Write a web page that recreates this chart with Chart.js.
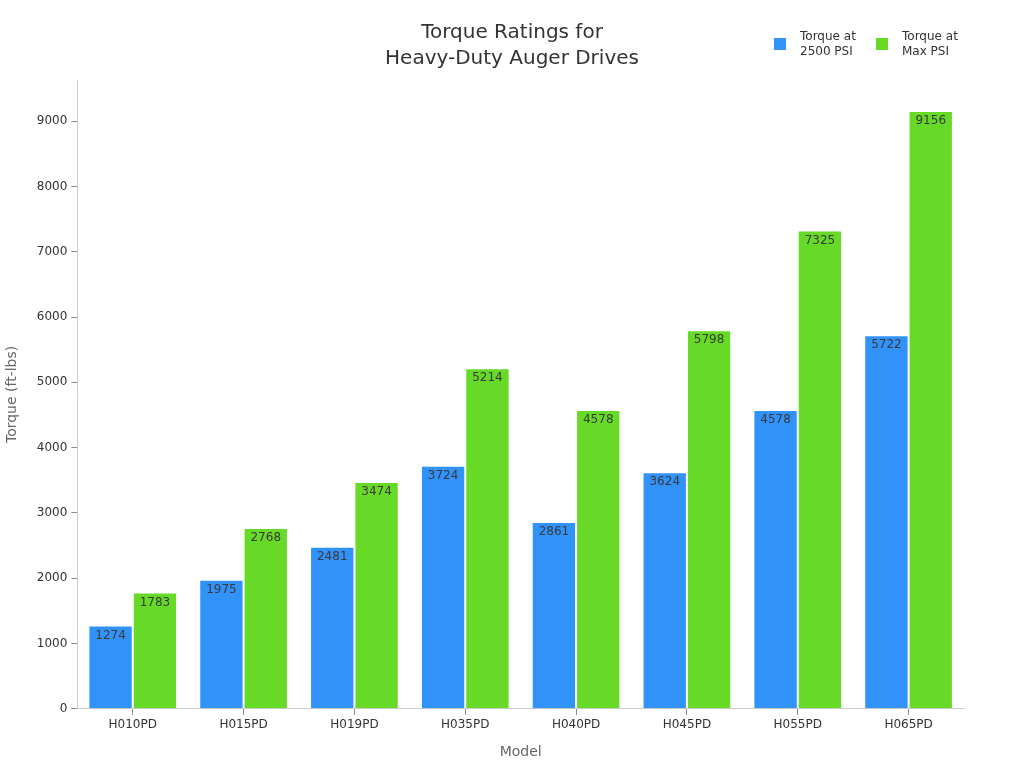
<!DOCTYPE html>
<html>
<head>
<meta charset="utf-8">
<script src="https://cdn.jsdelivr.net/npm/chart.js@4.4.1/dist/chart.umd.min.js"></script>
<style>
html,body{margin:0;padding:0;background:#fff;}
#wrap{width:1024px;height:768px;}
</style>
</head>
<body>
<div id="wrap"><canvas id="c" width="1024" height="768"></canvas></div>
<script>
const categories = ["H010PD","H015PD","H019PD","H035PD","H040PD","H045PD","H055PD","H065PD"];
const torque2500 = [1274,1975,2481,3724,2861,3624,4578,5722];
const torqueMax = [1783,2768,3474,5214,4578,5798,7325,9156];
const seriesNames = [["Torque at","2500 PSI"],["Torque at","Max PSI"]];
const yTicks = [0,1000,2000,3000,4000,5000,6000,7000,8000,9000];
const colors = ["#3192F9","#66DA26"];
const FONT = "'DejaVu Sans', sans-serif";

const labelPlugin = {
  id: 'barLabels',
  afterDatasetsDraw(chart) {
    const ctx = chart.ctx;
    ctx.save();
    ctx.font = "12px " + FONT;
    ctx.fillStyle = "#3a3a3a";
    ctx.textAlign = "center";
    ctx.textBaseline = "middle";
    chart.data.datasets.forEach((ds, i) => {
      chart.getDatasetMeta(i).data.forEach((bar, j) => {
        ctx.fillText(String(ds.data[j]), bar.x, bar.y + 10);
      });
    });
    ctx.restore();
  }
};

const legendPlugin = {
  id: 'customLegend',
  afterDraw(chart) {
    const ctx = chart.ctx;
    ctx.save();
    ctx.font = "12px " + FONT;
    ctx.textBaseline = "middle";
    ctx.textAlign = "left";
    const xs = [774, 876];
    chart.data.datasets.forEach((ds, i) => {
      ctx.fillStyle = ds.backgroundColor;
      ctx.fillRect(xs[i], 38, 12, 12);
      ctx.fillStyle = "#333333";
      seriesNames[i].forEach((line, k) => {
        ctx.fillText(line, xs[i] + 26, 37 + k * 15);
      });
    });
    ctx.restore();
  }
};

new Chart(document.getElementById('c'), {
  type: 'bar',
  data: {
    labels: categories,
    datasets: [
      { label: seriesNames[0].join(' '), data: torque2500, backgroundColor: colors[0], borderColor: "rgba(255,255,255,0.6)", borderWidth: 1 },
      { label: seriesNames[1].join(' '), data: torqueMax, backgroundColor: colors[1], borderColor: "rgba(255,255,255,0.6)", borderWidth: 1 }
    ]
  },
  options: {
    responsive: false,
    animation: false,
    layout: { padding: { top: 10, right: 0, bottom: 3, left: 0 } },
    datasets: { bar: { categoryPercentage: 0.8, barPercentage: 1.0 } },
    plugins: {
      legend: { display: false },
      tooltip: { enabled: false },
      title: {
        display: true,
        text: ["Torque Ratings for", "Heavy-Duty Auger Drives"],
        color: "#333333",
        font: { family: FONT, size: 20, weight: 'normal', lineHeight: 1.3 },
        padding: { top: 10, bottom: 8 }
      }
    },
    scales: {
      x: {
        grid: { drawOnChartArea: false, drawTicks: true, tickLength: 6, color: "#888888", offset: false },
        border: { color: "#cccccc" },
        ticks: { color: "#333333", font: { family: FONT, size: 12 }, padding: 3 },
        title: { display: true, text: "Model", color: "#666666", font: { family: FONT, size: 14 }, padding: { top: 9 } }
      },
      y: {
        min: 0,
        max: 9630,
        afterBuildTicks(axis) { axis.ticks = yTicks.map(v => ({ value: v })); },
        grid: { drawOnChartArea: false, drawTicks: true, tickLength: 6, color: "#888888" },
        border: { color: "#cccccc" },
        ticks: { color: "#333333", font: { family: FONT, size: 12 }, padding: 4, callback: v => String(v) },
        title: { display: true, text: "Torque (ft-lbs)", color: "#666666", font: { family: FONT, size: 14 }, padding: { top: 4, bottom: 12 } }
      },
      spacer: {
        type: 'linear',
        position: 'right',
        display: true,
        grid: { display: false },
        border: { display: false },
        ticks: { display: false },
        afterFit(axis) { axis.width = 60; }
      }
    }
  },
  plugins: [labelPlugin, legendPlugin]
});
</script>
</body>
</html>
